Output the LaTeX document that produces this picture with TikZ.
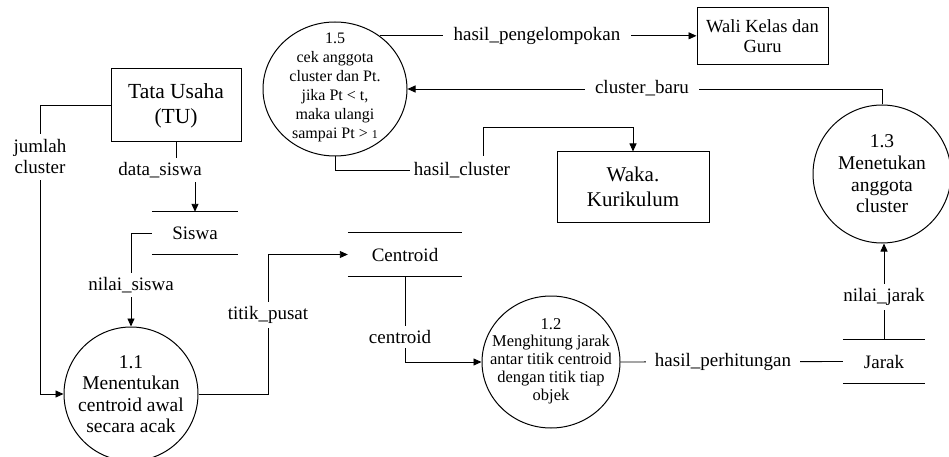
\documentclass[tikz,border=0pt]{standalone}
\usepackage{fontspec}
\setmainfont{Liberation Serif}
\usetikzlibrary{arrows.meta,shapes.geometric}

\begin{document}
\begin{tikzpicture}[x=1pt,y=-1pt,
  every node/.style={inner sep=0pt},
  flow/.style={line width=0.9pt},
  arr/.style={flow,-{Triangle[length=8pt,width=7pt]}},
  entity/.style={draw,line width=1pt,rectangle,align=center},
  proc/.style={draw,line width=1pt,ellipse},
  ptext/.style={align=center},
  lbl/.style={fill=white,inner xsep=4pt,inner ysep=4pt,font=\fontsize{19}{21}\selectfont,align=center},
  storetext/.style={font=\fontsize{19}{21}\selectfont}
]
\useasboundingbox (0,0) rectangle (949,457);

% external entities
\node[entity, minimum width=130pt, minimum height=73pt, font=\fontsize{21.5}{25}\selectfont] (tu) at (176,105.5) {Tata Usaha\\(TU)};
\node[entity, minimum width=131pt, minimum height=57pt, font=\fontsize{18.5}{20}\selectfont] (wali) at (762.5,36.5) {Wali Kelas dan\\Guru};
\node[entity, minimum width=152pt, minimum height=70pt, font=\fontsize{21}{25}\selectfont] (waka) at (633,187) {Waka.\\Kurikulum};

% processes
\node[proc, minimum width=134pt, minimum height=134pt] (p11) at (131,394) {};
\node[ptext, font=\fontsize{19.5}{21.5}\selectfont] (p11t) at (p11) {1.1\\Menentukan\\centroid awal\\secara acak};
\node[proc, minimum width=138pt, minimum height=132pt] (p12) at (551,362) {};
\node[ptext, font=\fontsize{16.5}{17.8}\selectfont] (p12t) at ([yshift=1pt]p12) {1.2\\Menghitung jarak\\antar titik centroid\\dengan titik tiap\\objek};
\node[proc, minimum width=138pt, minimum height=138pt] (p13) at (882,174) {};
\node[ptext, font=\fontsize{19.5}{21.7}\selectfont] (p13t) at (p13) {1.3\\Menetukan\\anggota\\cluster};
\node[proc, minimum width=144pt, minimum height=134pt] (p15) at (335,89) {};
\node[ptext, font=\fontsize{16}{19}\selectfont] (p15t) at ([yshift=2pt]p15) {1.5\\cek anggota\\cluster dan Pt.\\jika Pt < t,\\maka ulangi\\sampai Pt > {\fontsize{12}{12}\selectfont 1}};

% data stores
\node[storetext, minimum width=86pt, minimum height=42pt] (siswa) at (195,233) {Siswa};
\node[storetext, minimum width=114pt, minimum height=43pt] (centroid) at (405,254.5) {Centroid};
\node[storetext, minimum width=82pt, minimum height=43pt] (jarak) at (884,361.5) {Jarak};
\foreach \s in {siswa,centroid,jarak}
  \draw[flow] (\s.north west) -- (\s.north east) (\s.south west) -- (\s.south east);

% data flows
\draw[arr] (tu.west) -- (40,105.5) |- (p11.west);
\node[lbl, inner ysep=6pt] (l-jumlah) at (40,157) {jumlah\\cluster};

\draw[arr] (tu.south) -- (176,170) -| (siswa.north);
\node[lbl] (l-data) at (160,170) {data\_siswa};

\draw[arr] (siswa.west) -| (p11.north);
\node[lbl] (l-nilai) at (131,285) {nilai\_siswa};

\draw[arr] (p11.east) -- (268,394) |- (centroid.west);
\node[lbl] (l-titik) at (268,315) {titik\_pusat};

\draw[arr] (centroid.south) |- (p12.west);
\node[lbl] (l-centroid) at (400,337) {centroid};

\draw[flow] (p12.east) -- (jarak.west);
\node[lbl, inner xsep=9pt] (l-hasilp) at (723,362) {hasil\_perhitungan};

\draw[arr] (jarak.north) -- (jarak.north |- p13.south);
\node[lbl] (l-nilaij) at (884,297) {nilai\_jarak};

\draw[arr] (p13.north) |- (p15.east);
\node[lbl, inner xsep=10pt] (l-cbaru) at (642,88) {cluster\_baru};

\draw[arr] (p15.50) -- (p15.50 -| wali.west);
\node[lbl, inner xsep=11pt] (l-hpeng) at (537,36) {hasil\_pengelompokan};

\draw[arr] (p15.south) -- (335,170) -- (483,170) -- (483,127) -| (waka.north);
\node[lbl, inner ysep=6pt] (l-hcl) at (462,170) {hasil\_cluster};

\end{tikzpicture}
\end{document}
